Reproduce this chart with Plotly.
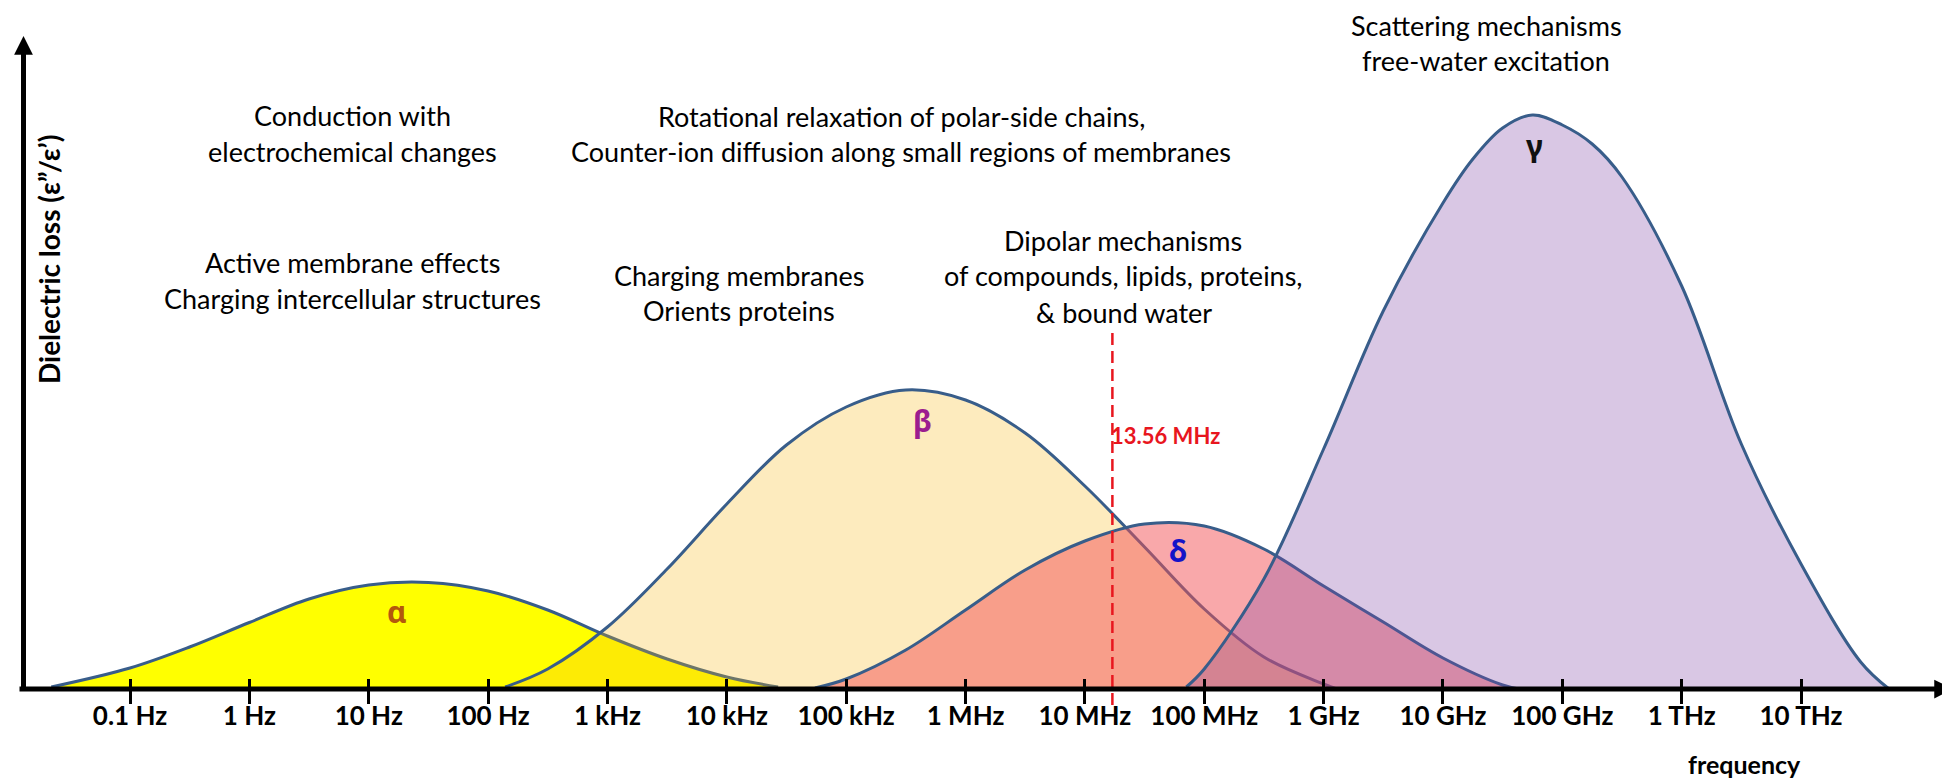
import plotly.graph_objects as go

# ---------------- data ----------------
# frequency in Hz, dielectric loss in arbitrary units
alpha_f = [0.0219, 0.1, 0.316, 1, 3.16, 10, 31.6, 100, 316, 1000, 3160, 1e4, 26900]
alpha_v = [0.02, 0.21, 0.42, 0.665, 0.90, 1.04, 1.065, 0.98, 0.79, 0.53, 0.30, 0.12, 0.02]

beta_f = [139, 316, 1000, 3160, 1e4, 3.16e4, 1e5, 3.16e5, 1e6, 3.16e6, 1e7, 3.16e7, 1e8,
          3.16e8, 1e9, 1.29e9]
beta_v = [0.02, 0.20, 0.62, 1.20, 1.85, 2.44, 2.82, 2.99, 2.89, 2.56, 2.03, 1.42, 0.80,
          0.32, 0.05, 0.0]

delta_f = [5.48e4, 1e5, 3.16e5, 1e6, 3.16e6, 1e7, 3.16e7, 1e8, 3.16e8, 1e9, 3.16e9, 1e10,
           3.16e10, 4.34e10]
delta_v = [0.01, 0.10, 0.39, 0.79, 1.19, 1.48, 1.65, 1.63, 1.40, 1.03, 0.67, 0.31, 0.04, 0.0]

gamma_f = [7.08e7, 1e8, 3.16e8, 1e9, 3.16e9, 1e10, 1.78e10, 3.16e10, 5.62e10, 1e11, 1.78e11,
           3.16e11, 1e12, 3.16e12, 1e13, 3.16e13, 5.46e13]
gamma_v = [0.02, 0.20, 1.10, 2.40, 3.78, 4.86, 5.30, 5.61, 5.74, 5.64, 5.45, 5.12, 4.03,
           2.45, 1.25, 0.27, 0.0]

tick_freqs = [0.1, 1, 10, 100, 1e3, 1e4, 1e5, 1e6, 1e7, 1e8, 1e9, 1e10, 1e11, 1e12, 1e13]
tick_labels = ["0.1 Hz", "1 Hz", "10 Hz", "100 Hz", "1 kHz", "10 kHz", "100 kHz", "1 MHz",
               "10 MHz", "100 MHz", "1 GHz", "10 GHz", "100 GHz", "1 THz", "10 THz"]

ism_freq = 1.7e7          # position of the dashed marker as drawn
ism_label = "13.56 MHz"
ism_span = [-0.16, 3.56]

# ---------------- layout helpers ----------------
W, H = 1950, 783
def px(x):
    return x / W
def py(y):
    return 1 - y / H

OUTLINE = "#385D8A"
TXT = "Lato, Noto Sans, sans-serif"

fig = go.Figure()

def bump(f, v, fill):
    fig.add_trace(go.Scatter(
        x=f, y=v, mode="lines", fill="tozeroy", fillcolor=fill,
        line=dict(color=OUTLINE, width=3, shape="spline", smoothing=1.0),
        hoverinfo="skip", showlegend=False))

bump(alpha_f, alpha_v, "#FFFF00")
bump(beta_f, beta_v, "rgba(247,182,18,0.275)")
bump(delta_f, delta_v, "rgba(243,81,85,0.5)")
bump(gamma_f, gamma_v, "rgba(128,68,165,0.3)")

fig.add_trace(go.Scatter(
    x=[ism_freq, ism_freq], y=ism_span, mode="lines",
    line=dict(color="#E8161E", width=2.5, dash="12px,6px"),
    hoverinfo="skip", showlegend=False))

ann = []
# axis arrows
ann.append(dict(xref="paper", yref="paper", x=px(1945), y=py(681), ax=-1935, ay=0,
                axref="pixel", ayref="pixel", text="", showarrow=True, arrowhead=2,
                arrowsize=0.75, arrowwidth=5, arrowcolor="black", standoff=0))
ann.append(dict(xref="paper", yref="paper", x=px(15.5), y=py(28), ax=0, ay=656,
                axref="pixel", ayref="pixel", text="", showarrow=True, arrowhead=2,
                arrowsize=0.75, arrowwidth=5, arrowcolor="black", standoff=0))

def text(s, x, y, size=27, color="black", bold=False, family=TXT, xanchor="center", angle=0):
    ann.append(dict(xref="paper", yref="paper", x=px(x), y=py(y), text=s, showarrow=False,
                    xanchor=xanchor, yanchor="middle", textangle=angle,
                    font=dict(family=family, size=size, color=color,
                              weight="bold" if bold else "normal")))

descs = [
    ("Conduction with", 344, 107), ("electrochemical changes", 344, 143),
    ("Active membrane effects", 344, 255), ("Charging intercellular structures", 344, 290),
    ("Rotational relaxation of polar-side chains,", 893, 108),
    ("Counter-ion diffusion along small regions of membranes", 893, 143),
    ("Charging membranes", 731, 267), ("Orients proteins", 731, 302),
    ("Dipolar mechanisms", 1115, 233), ("of compounds, lipids, proteins,", 1115, 268),
    ("& bound water", 1116, 304),
    ("Scattering mechanisms", 1478, 17), ("free-water excitation", 1478, 52),
]
for s, x, y in descs:
    text(s, x, y)

GREEK = "Noto Sans, DejaVu Sans, sans-serif"
text("α", 389, 603, size=30, color="#B4580C", bold=True, family=GREEK)
text("β", 914, 412, size=30, color="#9B1D8F", bold=True, family=GREEK)
text("δ", 1170, 542, size=30, color="#1414C8", bold=True, family=GREEK)
text("γ", 1526, 138, size=30, color="#111111", bold=True, family=GREEK)

text(ism_label, 1101, 427, size=22, color="#E8161E", bold=True, xanchor="left")
text("frequency", 1736, 756, size=25, bold=True)
text("Dielectric loss (ε”/ε’)", 41, 252, size=28, bold=True, angle=-90)

xr = [-1 - 122 / 119.36, -1 + (W - 122) / 119.36]
axpos = py(681)

fig.update_layout(
    width=W, height=H, margin=dict(l=0, r=0, t=0, b=0),
    paper_bgcolor="white", plot_bgcolor="white",
    showlegend=False, annotations=ann,
    xaxis=dict(type="log", range=xr, anchor="free", position=axpos,
               tickvals=tick_freqs, ticktext=tick_labels, ticks="outside",
               ticklen=14, tickwidth=2.5, tickcolor="black", showgrid=False,
               zeroline=False, showline=False, layer="above traces",
               ticklabelstandoff=-10,
               tickfont=dict(family=TXT, size=26, color="black", weight="bold")),
    xaxis2=dict(type="log", range=xr, anchor="free", position=axpos, overlaying="x",
                side="bottom", tickvals=tick_freqs, ticks="inside", ticklen=10,
                tickwidth=2.5, tickcolor="black", showticklabels=False, showgrid=False,
                zeroline=False, showline=False, layer="above traces"),
    yaxis=dict(range=[-1.02, 6.81], visible=False),
)
# invisible helper trace so the overlaid tick axis is drawn
fig.add_trace(go.Scatter(x=[tick_freqs[0]], y=[-5], xaxis="x2", mode="markers",
                         marker=dict(opacity=0), hoverinfo="skip", showlegend=False))

fig.write_html("out.html", config={"displayModeBar": False})
